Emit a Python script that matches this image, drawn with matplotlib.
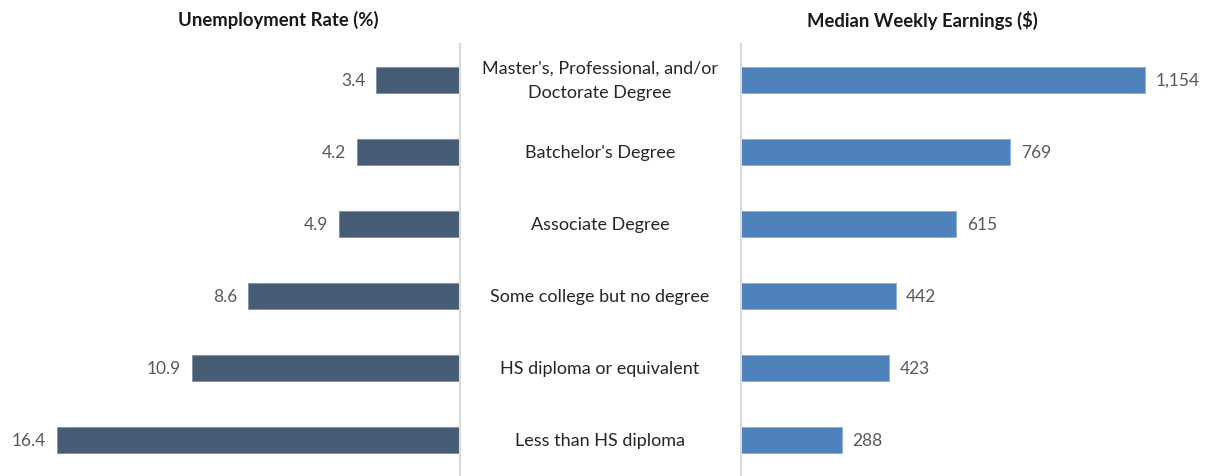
import matplotlib
matplotlib.use("Agg")
import matplotlib.pyplot as plt

categories = ["Master's, Professional, and/or\nDoctorate Degree", "Batchelor's Degree",
              "Associate Degree", "Some college but no degree",
              "HS diploma or equivalent", "Less than HS diploma"]
unemployment = [3.4, 4.2, 4.9, 8.6, 10.9, 16.4]
earnings = [1154, 769, 615, 442, 423, 288]

plt.rcParams["font.family"] = ["Lato", "DejaVu Sans"]
VAL = "#595959"

W, H = 1208, 477
fig = plt.figure(figsize=(W / 100, H / 100), dpi=100)

# pixel boxes -> figure fractions
def box(x0, y0, x1, y1):
    return [x0 / W, 1 - y1 / H, (x1 - x0) / W, (y1 - y0) / H]

axl = fig.add_axes(box(0, 45, 460, 477))
axr = fig.add_axes(box(741, 45, 1208, 477))
ypos = list(range(len(categories)))

axl.barh(ypos, unemployment, height=0.35, color="#475C75", edgecolor="#7d8ea3", linewidth=0.6)
axl.set_xlim(460 / 24.6, 0)
for y, v in zip(ypos, unemployment):
    axl.text(v + 0.45, y, f"{v:.1f}", ha="right", va="center", fontsize=12.5, color=VAL)

axr.barh(ypos, earnings, height=0.35, color="#4F81BD", edgecolor="#8eb0d8", linewidth=0.6)
axr.set_xlim(0, 467 / 0.35)
for y, v in zip(ypos, earnings):
    axr.text(v + 30, y, f"{v:,}", ha="left", va="center", fontsize=12.5, color=VAL)

for ax in (axl, axr):
    ax.set_ylim(len(categories) - 0.5, -0.5)
    ax.set_xticks([])
    ax.set_yticks([])
    for s in ax.spines.values():
        s.set_visible(False)
for ax, side in ((axl, "right"), (axr, "left")):
    ax.spines[side].set_visible(True)
    ax.spines[side].set_color("#d9d9d9")
    ax.spines[side].set_linewidth(1.5)

# category labels in the gap between the panels
for y, c in zip(ypos, categories):
    yf = 1 - (81 + 72 * y) / H
    fig.text(600 / W, yf, c, ha="center", va="center", fontsize=13, color="#262626",
             linespacing=1.6)

fig.text(278 / W, 1 - 20 / H, "Unemployment Rate (%)", ha="center", va="center",
         fontsize=13.3, fontweight="bold", color="#1a1a1a")
fig.text(922 / W, 1 - 20 / H, "Median Weekly Earnings ($)", ha="center", va="center",
         fontsize=13.3, fontweight="bold", color="#1a1a1a")

fig.savefig("out.png", dpi=100)
